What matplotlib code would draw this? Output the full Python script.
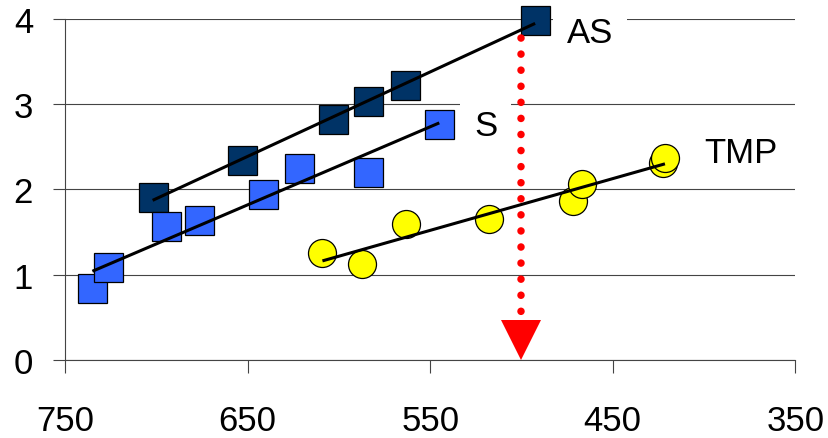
import numpy as np
import matplotlib
matplotlib.use("Agg")
import matplotlib.pyplot as plt

plt.rcParams['font.family'] = ['Liberation Sans', 'DejaVu Sans']

# Data
as_x = [702, 653, 603, 584, 564, 492.5]
as_y = [1.91, 2.34, 2.82, 3.03, 3.22, 3.98]
s_x = [735, 726.5, 694.5, 676.5, 641.5, 622, 584, 545]
s_y = [0.84, 1.09, 1.57, 1.645, 1.95, 2.25, 2.20, 2.77]
tmp_x = [609, 587.5, 563.5, 517.5, 472, 467, 422.3, 421.4]
tmp_y = [1.25, 1.13, 1.59, 1.65, 1.86, 2.06, 2.31, 2.365]
labels = ["AS", "S", "TMP"]
label_x = [475, 526, 400]
label_y = [3.84, 2.75, 2.43]
marker_x = 500
arrow_top = 3.77
arrow_bottom = 0.55
x_ticks = [750, 650, 550, 450, 350]
y_ticks = [0, 1, 2, 3, 4]

DPI = 100
fig = plt.figure(figsize=(8.29, 4.39), dpi=DPI)
ax = fig.add_axes([65/829, 78/439, (795.3-65)/829, (361-19.7)/439])
ax.set_xlim(750, 350)
ax.set_ylim(0, 4)

grid_c = '#444444'
ax.set_yticks(y_ticks)
ax.set_xticks(x_ticks)
ax.yaxis.grid(True, color=grid_c, linewidth=0.8, zorder=0)
ax.set_axisbelow(True)
for sp in ['top', 'right']:
    ax.spines[sp].set_visible(False)
for sp in ['left', 'bottom']:
    ax.spines[sp].set_color(grid_c)
    ax.spines[sp].set_linewidth(0.8)
ax.tick_params(axis='both', direction='out', length=9, width=0.8, color=grid_c,
               labelsize=25, pad=14)
ax.tick_params(axis='x', pad=23)

ms_sq = 29 * 72 / DPI
ms_c = 28 * 72 / DPI
edge_lw = 0.9

series = [
    (as_x, as_y, 's', '#003366', ms_sq),
    (s_x, s_y, 's', '#3366FF', ms_sq),
    (tmp_x, tmp_y, 'o', '#FFFF00', ms_c),
]
for xs, ys, mk, col, ms in series:
    for x, y in zip(xs, ys):
        ax.plot([x], [y], linestyle='none', marker=mk, markersize=ms,
                markerfacecolor=col, markeredgecolor='black',
                markeredgewidth=edge_lw, zorder=3, clip_on=False)
    k, b = np.polyfit(xs, ys, 1)
    xx = np.array([max(xs), min(xs)])
    ax.plot(xx, k * xx + b, color='black', linewidth=2.2, zorder=4,
            solid_capstyle='butt')

# Red dotted arrow
lw_dot = 7.5 * 72 / DPI
ax.plot([marker_x, marker_x], [arrow_top, arrow_bottom], color='#FF0000',
        linewidth=lw_dot, linestyle=(0, (0.01, 16 / 7.5)),
        dash_capstyle='round', zorder=5)
ax.plot([marker_x], [0.235], marker='v', markersize=40 * 72 / DPI,
        color='#FF0000', markeredgewidth=0, zorder=5, clip_on=False)

for t, x, y in zip(labels, label_x, label_y):
    ax.text(x, y, t, fontsize=25, ha='left', va='center', zorder=2,
            bbox=dict(facecolor='white', edgecolor='none', pad=10))

fig.savefig('out.png', dpi=DPI)
